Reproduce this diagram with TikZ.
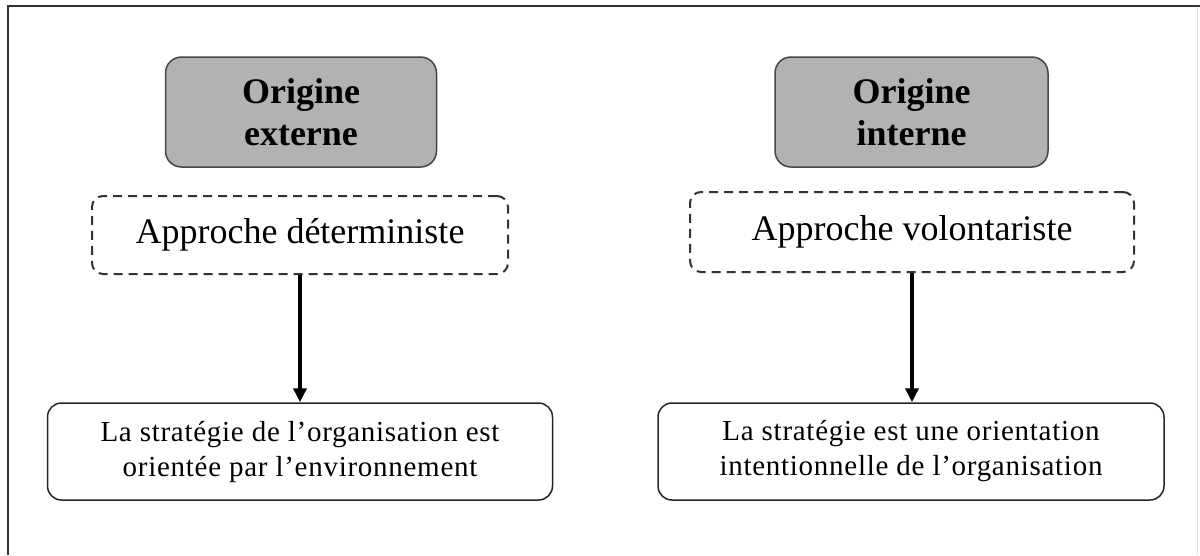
\documentclass[tikz,border=0pt]{standalone}
\usepackage{fontspec}
\setmainfont{Liberation Serif}
\newfontfamily\spacedserif[LetterSpace=2.5]{Liberation Serif}
\usetikzlibrary{arrows.meta}
\definecolor{boxgray}{RGB}{178,178,178}
\definecolor{edgegray}{RGB}{70,70,70}
\tikzset{
  origin/.style={draw=edgegray, line width=1.5pt, fill=boxgray, rounded corners=16pt,
    align=center, inner sep=0pt, font=\fontsize{36}{42}\selectfont\bfseries},
  approach/.style={draw=black!80, line width=2pt, dash pattern=on 9pt off 6pt,
    rounded corners=11pt, align=center, inner sep=0pt, font=\fontsize{36}{40}\selectfont},
  result/.style={draw=black!85, line width=1.5pt, rounded corners=14pt,
    align=center, inner sep=0pt, font=\spacedserif\fontsize{29}{35}\selectfont},
  flow/.style={line width=4pt, -{Triangle[length=14pt,width=13pt]}},
  frame/.style={line width=1.6pt, black!80}
}
\begin{document}
\begin{tikzpicture}[x=1pt,y=-1pt]
\useasboundingbox (0,0) rectangle (1200,555);
\fill[white] (0,0) rectangle (1200,555);
\draw[frame] (8,555) -- (8,6) -- (1200,6);
\draw[black!12, line width=1pt] (1197,7) -- (1197,555);

\node[origin, minimum width=271pt, minimum height=110pt] (ext) at (301,112) {Origine\\externe};
\node[approach, minimum width=416pt, minimum height=78pt] (det) at (300,235) {\raisebox{-4pt}{Approche déterministe}};
\node[result, minimum width=505pt, minimum height=97pt] (env) at (300,451.5)
  {La stratégie de l’organisation est\\orientée par l’environnement};

\node[origin, minimum width=273pt, minimum height=110pt] (int) at (911.5,112) {Origine\\interne};
\node[approach, minimum width=444pt, minimum height=80pt] (vol) at (912,232) {\raisebox{-2pt}{Approche volontariste}};
\node[result, minimum width=506pt, minimum height=97pt] (ori) at (911,451.5)
  {La stratégie est une orientation\\intentionnelle de l’organisation};

\draw[flow] (det.south) -- (det.south |- env.north);
\draw[flow] (vol.south) -- (vol.south |- ori.north);
\end{tikzpicture}
\end{document}
